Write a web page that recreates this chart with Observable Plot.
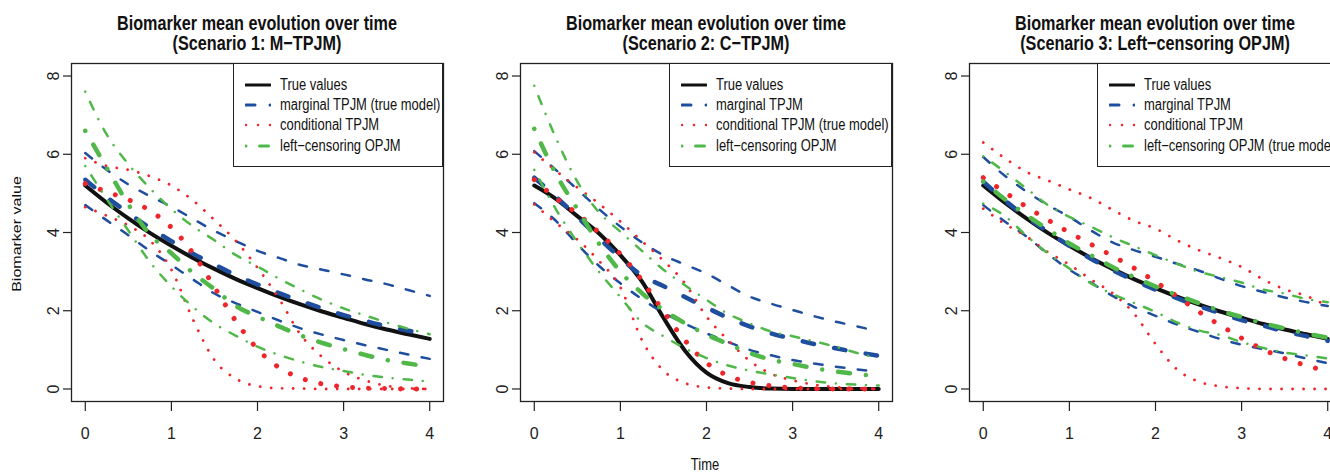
<!DOCTYPE html>
<html><head><meta charset="utf-8">
<script src="https://cdn.jsdelivr.net/npm/d3@7"></script>
<script src="https://cdn.jsdelivr.net/npm/@observablehq/plot@0.6"></script>
<style>
html,body{margin:0;padding:0;background:#fff;}
#fig{position:relative;width:1330px;height:473px;overflow:hidden;font-family:"Liberation Sans",Arial,sans-serif;color:#111;}
.panel{position:absolute;top:0;width:449px;height:473px;}
.panel > svg{position:absolute;left:0;top:56px;}
.title{position:absolute;left:71px;width:372px;top:12.5px;text-align:center;font-weight:bold;font-size:20px;line-height:20px;white-space:nowrap;transform:scaleX(0.81);transform-origin:50% 50%;}
.legend{position:absolute;top:63px;right:6px;border:1.3px solid #222;background:#fff;padding:10.5px 2px 10.5px 11px;box-sizing:border-box;}
.row{display:flex;align-items:center;height:20.3px;font-size:16px;white-space:nowrap;}
.row svg{margin-right:9px;flex:none;}
.ylab{position:absolute;left:17px;top:234px;transform:translate(-50%,-50%) rotate(-90deg) scaleY(0.81);font-size:16px;white-space:nowrap;}
.xlab{position:absolute;left:705px;top:465px;transform:translate(-50%,-50%) scaleX(0.81);font-size:16px;}
.nw{display:inline-block;overflow:visible;}
.nw > span{display:inline-block;transform:scaleX(0.81);transform-origin:0 50%;}
</style>
</head><body>
<div id="fig"></div>
<script>
// ---- data ----
const times = [0,0.25,0.5,0.75,1,1.25,1.5,1.75,2,2.25,2.5,2.75,3,3.25,3.5,3.75,4];
const xTicks = [0,1,2,3,4];
const yTicks = [0,2,4,6,8];
const mainTitle = "Biomarker mean evolution over time";
const subTitles = ["(Scenario 1: M\u2212TPJM)","(Scenario 2: C\u2212TPJM)","(Scenario 3: Left\u2212censoring OPJM)"];
const legendLabels = [
  ["True values","marginal TPJM (true model)","conditional TPJM","left\u2212censoring OPJM"],
  ["True values","marginal TPJM","conditional TPJM (true model)","left\u2212censoring OPJM"],
  ["True values","marginal TPJM","conditional TPJM","left\u2212censoring OPJM (true model)"]
];
const yLabel = "Biomarker value";
const xLabel = "Time";

// Scenario 1
const s1_true      = [5.20,4.76,4.36,3.99,3.66,3.35,3.07,2.81,2.58,2.36,2.16,1.98,1.82,1.66,1.52,1.40,1.28];
const s1_marg_low  = [4.70,4.31,3.93,3.53,3.17,2.80,2.44,2.19,1.97,1.75,1.55,1.39,1.25,1.12,1.00,0.88,0.77];
const s1_marg_mean = [5.35,4.90,4.50,4.12,3.78,3.46,3.18,2.91,2.67,2.45,2.25,2.06,1.89,1.74,1.60,1.49,1.39];
const s1_marg_up   = [6.03,5.60,5.23,4.93,4.66,4.35,4.04,3.78,3.53,3.35,3.17,3.05,2.93,2.80,2.68,2.53,2.38];
const s1_cond_low  = [4.65,4.43,4.18,3.80,3.05,1.78,0.74,0.26,0.07,0.02,0.01,0,0,0,0,0,0];
const s1_cond_mean = [5.25,5.04,4.84,4.56,4.13,3.47,2.60,1.73,1.02,0.55,0.28,0.13,0.06,0.02,0.01,0,0];
const s1_cond_up   = [5.90,5.70,5.60,5.44,5.20,4.82,4.32,3.78,3.10,2.31,1.39,0.82,0.44,0.22,0.08,0.02,0];
const s1_lc_low    = [5.70,4.85,4.05,3.25,2.62,2.10,1.67,1.36,1.08,0.87,0.70,0.56,0.46,0.36,0.29,0.24,0.19];
const s1_lc_mean   = [6.60,5.65,4.72,3.95,3.47,2.97,2.55,2.12,1.85,1.60,1.37,1.18,1.02,0.87,0.74,0.65,0.57];
const s1_lc_up     = [7.60,6.50,5.75,5.13,4.60,4.16,3.80,3.42,3.13,2.82,2.54,2.28,2.06,1.88,1.70,1.54,1.40];

// Scenario 2
const s2_true      = [5.20,4.86,4.42,3.98,3.42,2.75,1.82,0.98,0.42,0.15,0.05,0.01,0,0,0,0,0];
const s2_marg_low  = [4.75,4.30,3.70,3.15,2.70,2.30,1.95,1.67,1.42,1.20,1.00,0.86,0.74,0.65,0.57,0.50,0.44];
const s2_marg_mean = [5.40,4.92,4.40,3.86,3.35,2.90,2.63,2.35,2.08,1.82,1.60,1.42,1.28,1.15,1.04,0.94,0.85];
const s2_marg_up   = [6.08,5.60,5.10,4.60,4.15,3.75,3.42,3.18,2.95,2.65,2.36,2.18,2.02,1.86,1.72,1.60,1.47];
const s2_cond_low  = [4.72,4.25,3.82,3.28,2.60,1.25,0.47,0.15,0.04,0.01,0,0,0,0,0,0,0];
const s2_cond_mean = [5.35,4.88,4.48,4.00,3.45,2.78,1.98,1.24,0.67,0.34,0.17,0.08,0.03,0.01,0,0,0];
const s2_cond_up   = [6.05,5.58,5.15,4.74,4.28,3.78,3.28,2.70,1.85,1.25,0.72,0.39,0.22,0.11,0.05,0.02,0];
const s2_lc_low    = [5.60,4.60,3.75,3.00,2.35,1.70,1.35,1.04,0.79,0.60,0.47,0.37,0.28,0.20,0.14,0.11,0.09];
const s2_lc_mean   = [6.65,5.50,4.60,3.72,3.00,2.45,2.02,1.68,1.39,1.15,0.92,0.75,0.64,0.53,0.45,0.38,0.32];
const s2_lc_up     = [7.75,6.42,5.30,4.52,4.02,3.53,3.05,2.65,2.28,1.92,1.68,1.47,1.35,1.22,1.08,0.92,0.78];

// Scenario 3
const s3_true      = [5.20,4.76,4.36,3.99,3.66,3.35,3.07,2.81,2.58,2.36,2.16,1.98,1.82,1.66,1.52,1.40,1.28];
const s3_marg_low  = [4.70,4.28,3.90,3.45,3.05,2.72,2.38,2.10,1.87,1.65,1.46,1.28,1.13,1.02,0.91,0.78,0.66];
const s3_marg_mean = [5.30,4.82,4.40,4.02,3.66,3.33,3.04,2.78,2.54,2.32,2.12,1.94,1.76,1.62,1.47,1.35,1.23];
const s3_marg_up   = [5.93,5.45,5.05,4.70,4.40,4.05,3.75,3.55,3.38,3.20,3.03,2.82,2.63,2.48,2.34,2.22,2.12];
const s3_cond_low  = [4.61,4.22,3.90,3.50,3.18,2.80,2.45,1.93,1.15,0.50,0.19,0.07,0.02,0,0,0,0];
const s3_cond_mean = [5.40,5.03,4.66,4.32,4.00,3.70,3.40,3.09,2.74,2.37,1.98,1.63,1.30,1.01,0.78,0.60,0.45];
const s3_cond_up   = [6.30,5.90,5.55,5.33,5.10,4.88,4.58,4.30,4.10,3.80,3.55,3.35,3.12,2.80,2.55,2.38,2.12];
const s3_lc_low    = [4.74,4.42,3.92,3.47,3.08,2.70,2.43,2.20,1.97,1.70,1.50,1.38,1.20,1.05,0.93,0.86,0.78];
const s3_lc_mean   = [5.30,4.85,4.45,4.08,3.72,3.42,3.12,2.86,2.62,2.40,2.20,2.00,1.84,1.68,1.55,1.42,1.31];
const s3_lc_up     = [5.95,5.55,5.13,4.70,4.40,4.15,3.88,3.65,3.42,3.20,3.00,2.86,2.72,2.54,2.44,2.30,2.22];

// ---- styles ----
const BLACK = "#111", BLUE = "#1f4e9e", RED = "#ee262c", GREEN = "#4fb848";
const styles = {
  truth:     {stroke: BLACK, strokeWidth: 4},
  margMean:  {stroke: BLUE, strokeWidth: 4.5, strokeDasharray: "11.5,20.5"},
  margBound: {stroke: BLUE, strokeWidth: 2.5, strokeDasharray: "8.5,13.5"},
  condMean:  {stroke: RED, strokeWidth: 5, strokeDasharray: "0.01,16"},
  condBound: {stroke: RED, strokeWidth: 2.8, strokeDasharray: "0.01,11"},
  lcMean:    {stroke: GREEN, strokeWidth: 4.5, strokeDasharray: "0.01,16,12,16"},
  lcBound:   {stroke: GREEN, strokeWidth: 2.5, strokeDasharray: "0.01,11,8.5,10.75"}
};
const legendStyles = [
  {stroke: BLACK, width: 3, dash: null},
  {stroke: BLUE, width: 3, dash: "9,15"},
  {stroke: RED, width: 2.5, dash: "0.01,12"},
  {stroke: GREEN, width: 3, dash: "0.01,13.5,9,100"}
];

const scenarios = [
  [[s1_true,"truth"],[s1_marg_low,"margBound"],[s1_marg_up,"margBound"],[s1_marg_mean,"margMean"],
   [s1_cond_low,"condBound"],[s1_cond_up,"condBound"],[s1_cond_mean,"condMean"],
   [s1_lc_low,"lcBound"],[s1_lc_up,"lcBound"],[s1_lc_mean,"lcMean"]],
  [[s2_true,"truth"],[s2_marg_low,"margBound"],[s2_marg_up,"margBound"],[s2_marg_mean,"margMean"],
   [s2_cond_low,"condBound"],[s2_cond_up,"condBound"],[s2_cond_mean,"condMean"],
   [s2_lc_low,"lcBound"],[s2_lc_up,"lcBound"],[s2_lc_mean,"lcMean"]],
  [[s3_true,"truth"],[s3_marg_low,"margBound"],[s3_marg_up,"margBound"],[s3_marg_mean,"margMean"],
   [s3_cond_low,"condBound"],[s3_cond_up,"condBound"],[s3_cond_mean,"condMean"],
   [s3_lc_low,"lcBound"],[s3_lc_up,"lcBound"],[s3_lc_mean,"lcMean"]]
];

const FONT = '"Liberation Sans",Arial,sans-serif';
const fig = document.getElementById("fig");
const narrowSpans = [];

scenarios.forEach((series, k) => {
  const panel = document.createElement("div");
  panel.className = "panel";
  panel.style.left = (k * 449) + "px";
  fig.appendChild(panel);

  const marks = [];
  series.forEach(([vals, st]) => {
    const rows = times.map((t, i) => ({t, v: vals[i]}));
    marks.push(Plot.line(rows, {x: "t", y: "v", curve: "monotone-x", strokeLinecap: "round", strokeLinejoin: "round", ...styles[st]}));
  });
  marks.push(Plot.frame({stroke: "#222", strokeWidth: 1.3}));
  marks.push(Plot.axisX(xTicks, {tickSize: 10, tickPadding: 16, fontSize: 16, label: null, stroke: "#222", strokeWidth: 1.2}));
  marks.push(Plot.axisY(yTicks, {tickSize: 8, tickPadding: 5, tickRotate: -90, fontSize: 16, label: null, stroke: "#222", strokeWidth: 1.2}));

  const svg = Plot.plot({
    width: 449, height: 417,
    marginTop: 7, marginBottom: 72, marginLeft: 71, marginRight: 6,
    x: {domain: [-0.16, 4.16]},
    y: {domain: [-0.32, 8.32]},
    style: {fontFamily: FONT, fontSize: "16px", color: "#222", background: "transparent", overflow: "visible"},
    marks
  });
  panel.appendChild(svg);

  const title = document.createElement("div");
  title.className = "title";
  title.innerHTML = mainTitle + "<br>" + subTitles[k];
  panel.appendChild(title);

  const leg = document.createElement("div");
  leg.className = "legend";
  legendLabels[k].forEach((lab, j) => {
    const s = legendStyles[j];
    const row = document.createElement("div");
    row.className = "row";
    row.innerHTML = `<svg width="26" height="8"><line x1="1" y1="4" x2="25.2" y2="4" stroke="${s.stroke}" stroke-width="${s.width}" stroke-linecap="round" ${s.dash ? `stroke-dasharray="${s.dash}"` : ""}/></svg>`;
    const outer = document.createElement("span");
    outer.className = "nw";
    const inner = document.createElement("span");
    inner.textContent = lab;
    outer.appendChild(inner);
    row.appendChild(outer);
    narrowSpans.push(outer);
    leg.appendChild(row);
  });
  panel.appendChild(leg);
});

// shrink layout width of horizontally condensed legend texts
narrowSpans.forEach(o => {
  const w = o.firstChild.getBoundingClientRect().width;
  o.style.width = w + "px";
});

const yl = document.createElement("div");
yl.className = "ylab"; yl.textContent = yLabel; fig.appendChild(yl);
const xl = document.createElement("div");
xl.className = "xlab"; xl.textContent = xLabel; fig.appendChild(xl);
</script>
</body></html>
